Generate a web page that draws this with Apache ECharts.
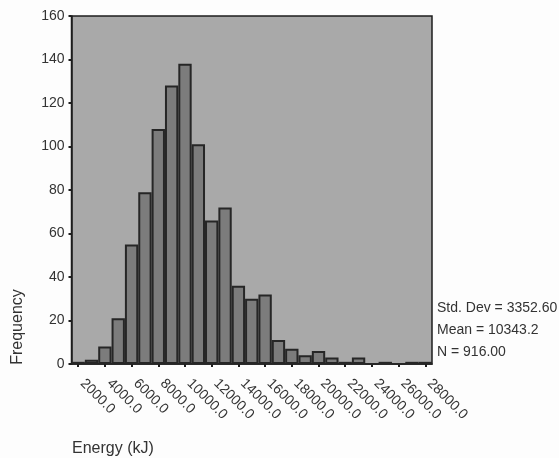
<!DOCTYPE html>
<html>
<head>
<meta charset="utf-8">
<script src="https://cdn.jsdelivr.net/npm/echarts@6/dist/echarts.min.js"></script>
<style>
  html, body { margin: 0; padding: 0; background: #fdfdfd; }
  #chart { width: 559px; height: 458px; }
</style>
</head>
<body>
<div id="chart"></div>
<script>
// Energy intake histogram: bin midpoints (kJ) and the number of cases per bin
const binMidpoints = [2000, 3000, 4000, 5000, 6000, 7000, 8000, 9000, 10000, 11000,
  12000, 13000, 14000, 15000, 16000, 17000, 18000, 19000, 20000, 21000,
  22000, 23000, 24000, 25000, 26000, 27000, 28000];
const frequencies = [1, 2, 8, 21, 55, 79, 108, 128, 138, 101,
  66, 72, 36, 30, 32, 11, 7, 4, 6, 3,
  1, 3, 0, 1, 0, 1, 1];
const frequencyTicks = [0, 20, 40, 60, 80, 100, 120, 140, 160];
const summaryLines = ['Std. Dev = 3352.60', 'Mean = 10343.2', 'N = 916.00'];
const xTitle = 'Energy (kJ)';
const yTitle = 'Frequency';

const FONT = '"Liberation Sans", Arial, sans-serif';
const TEXT = '#333';

const chart = echarts.init(document.getElementById('chart'), null, { renderer: 'canvas' });

const summaryTop = 308;
const summaryStep = 22;

chart.setOption({
  animation: false,
  backgroundColor: '#fdfdfd',
  grid: {
    left: 71.5, right: 127, top: 16, bottom: 94,
    show: true,
    backgroundColor: '#a9a9a9',
    borderColor: '#1e1e1e',
    borderWidth: 1.5
  },
  xAxis: {
    type: 'category',
    data: binMidpoints.map(v => v.toFixed(1)),
    boundaryGap: true,
    axisLine: { show: true, lineStyle: { color: '#1e1e1e', width: 1.5 } },
    axisTick: { show: true, interval: 1, alignWithLabel: true, length: 3, lineStyle: { color: '#1e1e1e', width: 2 } },
    axisLabel: {
      interval: 1, rotate: -45, margin: 13, padding: [0, 0, 0, 6],
      fontFamily: FONT, fontSize: 14, color: TEXT
    },
    splitLine: { show: false }
  },
  yAxis: {
    type: 'value',
    min: frequencyTicks[0],
    max: frequencyTicks[frequencyTicks.length - 1],
    interval: frequencyTicks[1] - frequencyTicks[0],
    axisLine: { show: true, lineStyle: { color: '#1e1e1e', width: 1.5 } },
    axisTick: { show: true, length: 3, lineStyle: { color: '#1e1e1e', width: 2 } },
    axisLabel: { margin: 7, fontFamily: FONT, fontSize: 14, color: TEXT },
    splitLine: { show: false }
  },
  series: [{
    type: 'bar',
    data: frequencies,
    barCategoryGap: '0%',
    itemStyle: { color: '#7c7c7c', borderColor: '#262626', borderWidth: 2 }
  }],
  graphic: [
    {
      type: 'text', left: 72, top: 441,
      style: { text: xTitle, font: '16px ' + FONT, fill: TEXT }
    },
    {
      type: 'text', x: 18, y: 327, rotation: Math.PI / 2,
      style: { text: yTitle, font: '16px ' + FONT, fill: TEXT, align: 'center', verticalAlign: 'middle' }
    }
  ].concat(summaryLines.map((line, i) => ({
    type: 'text', x: 437, y: summaryTop + i * summaryStep,
    style: { text: line, font: '14px ' + FONT, fill: TEXT, align: 'left', verticalAlign: 'middle' }
  })))
});
</script>
</body>
</html>
